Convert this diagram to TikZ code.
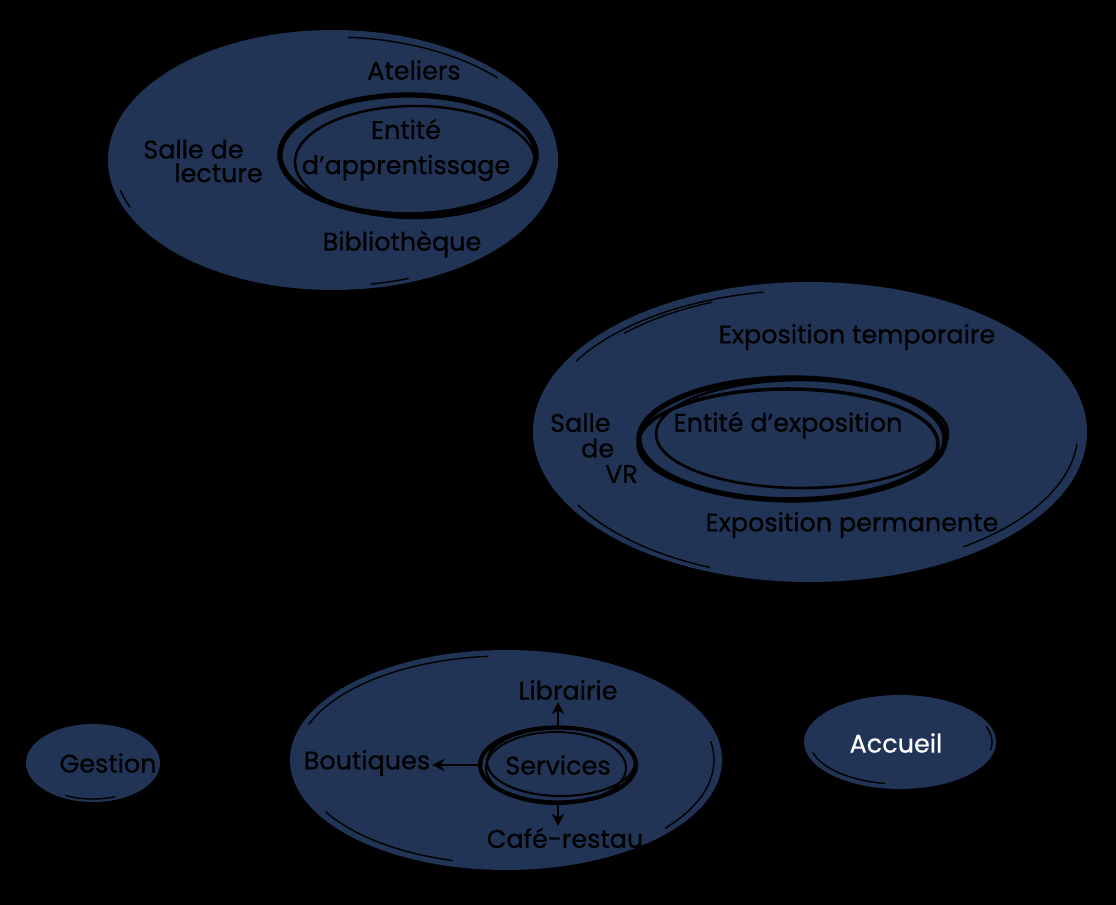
\documentclass[tikz,border=0pt]{standalone}
\usepackage{fontspec}
\setmainfont{Poppins}[FakeBold=0.6]
\usetikzlibrary{arrows.meta,shapes.geometric}
\definecolor{navy}{HTML}{213456}
\tikzset{
 zone/.style={fill=navy},
 sketch/.style={draw=black,line width=0.8pt},
 ring/.style={draw=black,line width=3pt},
 lbl/.style={font=\fontsize{14.5}{16}\selectfont,text=black,inner sep=1pt},
 link/.style={-{Stealth[length=7pt,width=7pt]},line width=1.6pt},
}
\begin{document}
\begin{tikzpicture}[x=0.02cm,y=-0.02cm,line cap=round,line join=round]
 \fill[black] (0,0) rectangle (1116,905);
 % apprentissage
 \begin{scope}[shift={(333,160)}]
  \fill[zone] (0,0) ellipse (225 and 130);
  \draw[sketch] (-86:221 and 123) arc[start angle=-86,end angle=-42,x radius=221,y radius=123];
  \draw[sketch] (158:219 and 126) arc[start angle=158,end angle=166,x radius=219,y radius=126];
  \draw[sketch] (70:220 and 126) arc[start angle=70,end angle=80,x radius=220,y radius=126];
  \draw[ring] (75,-5) ellipse (128 and 60);
  \draw[sketch,line width=1.4pt] (82,2) ellipse (120 and 56);
  \draw[sketch] (60:125 and 58) ++(75,-5) arc[start angle=60,end angle=110,x radius=125,y radius=58];
 \end{scope}
 \node[lbl] (atel) at (414,70) {Ateliers};
 \node[lbl,align=center] (appr) at (406,150) {Entité\\[4pt]d’apprentissage};
 \node[lbl,align=left,font=\fontsize{14.5}{13.5}\selectfont] (lect) at (203,161) {Salle de\\\hspace{0.62cm}lecture};
 \node[lbl] (biblio) at (402,244) {Bibliothèque};
 % exposition
 \begin{scope}[shift={(810,432)}]
  \fill[zone] (0,0) ellipse (277 and 150);
  \draw[sketch] (-150:270 and 142) arc[start angle=-150,end angle=-100,x radius=270,y radius=142];
  \draw[sketch] (-135:262 and 140) arc[start angle=-135,end angle=-112,x radius=262,y radius=140];
  \draw[sketch] (150:268 and 146) arc[start angle=150,end angle=112,x radius=268,y radius=146];
  \draw[sketch] (5:268 and 140) arc[start angle=5,end angle=55,x radius=268,y radius=140];
  \draw[ring] (-18,7) ellipse (153 and 61);
  \draw[sketch,line width=1.5pt] (-8,2) ellipse (146 and 54);
  \draw[sketch,line width=2pt] (-22,12) ellipse (150 and 55);
 \end{scope}
 \node[lbl] (tempo) at (857,337) {Exposition temporaire};
 \node[lbl] (expo) at (788,425) {Entité d’exposition};
 \node[lbl,align=left,font=\fontsize{14.5}{14.5}\selectfont] (vr) at (594,448) {Salle\\\hspace{0.62cm}de\\\hspace{1.1cm}VR};
 \node[lbl] (perma) at (852,525) {Exposition permanente};
 % services
 \begin{scope}[shift={(506,760)}]
  \fill[zone] (0,0) ellipse (216 and 110);
  \draw[sketch] (-160:210 and 104) arc[start angle=-160,end angle=-95,x radius=210,y radius=104];
  \draw[sketch] (150:208 and 104) arc[start angle=150,end angle=105,x radius=208,y radius=104];
  \draw[sketch] (40:208 and 106) arc[start angle=40,end angle=-10,x radius=208,y radius=106];
  \draw[sketch,line width=1.2pt] (55,2) ellipse (74 and 34);
  \draw[sketch,line width=1.1pt] (50,8) ellipse (70 and 36);
 \end{scope}
 \node[ellipse,draw=black,line width=2.4pt,minimum width=3.12cm,minimum height=1.5cm,inner sep=0pt,lbl] (serv) at (558,765) {Services};
 \node[lbl] (libr) at (568,690) {Librairie};
 \node[lbl] (bout) at (367,763) {Boutiques};
 \node[lbl] (cafe) at (565,838) {Café-restau};
 \draw[link] (serv.north) -- (serv.north |- libr.south);
 \draw[link] (serv.west) -- (serv.west -| bout.east);
 \draw[link] (serv.south) -- (serv.south |- cafe.north);
 % gestion, accueil
 \fill[zone] (93,763) ellipse (67 and 39);
 \draw[sketch] (93,763) ++(70:64 and 36) arc[start angle=70,end angle=115,x radius=64,y radius=36];
 \node[lbl] (gest) at (108,763) {Gestion};
 \fill[zone] (900,742) ellipse (96 and 47);
 \draw[sketch] (900,742) ++(100:90 and 42) arc[start angle=100,end angle=165,x radius=90,y radius=42];
 \draw[sketch] (900,742) ++(-20:92 and 44) arc[start angle=-20,end angle=10,x radius=92,y radius=44];
 \node[lbl,text=white] (accueil) at (896,743) {Accueil};
\end{tikzpicture}
\end{document}
